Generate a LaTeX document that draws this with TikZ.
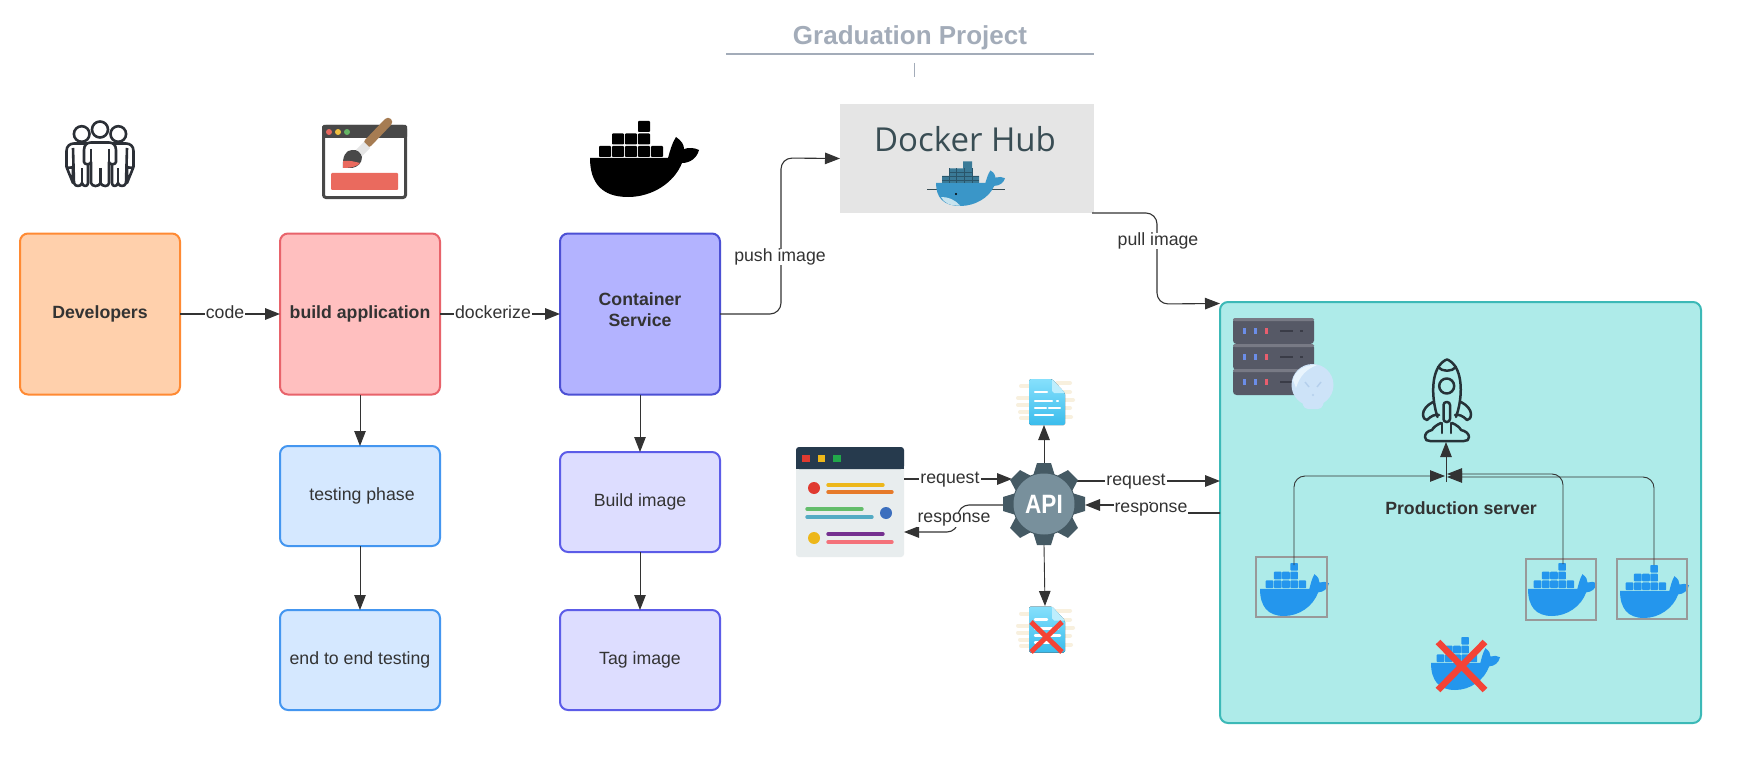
\documentclass[tikz,border=0pt]{standalone}
\usepackage{fontspec}
\setmainfont{Liberation Sans}
\newfontfamily\hubfont{Open Sans}
\usetikzlibrary{arrows.meta,calc}
\definecolor{ink}{HTML}{333333}
\definecolor{dockblue}{HTML}{2496ED}
\definecolor{crossred}{HTML}{F44336}
\definecolor{titlegrey}{HTML}{A3ACB9}
\definecolor{cream}{HTML}{F8F0DE}
\definecolor{docA}{HTML}{86E0FC}
\definecolor{docB}{HTML}{3ABCEC}
\definecolor{docF}{HTML}{BDEEFD}
\definecolor{pplc}{HTML}{2B2F36}
\definecolor{rockc}{HTML}{263238}
\definecolor{HTMLa}{HTML}{FF8A33}
\definecolor{HTMLb}{HTML}{FFD0AC}
\definecolor{HTMLc}{HTML}{E8636B}
\definecolor{HTMLd}{HTML}{FFBFBF}
\definecolor{HTMLe}{HTML}{4C50D4}
\definecolor{HTMLf}{HTML}{B3B3FF}
\definecolor{HTMLg}{HTML}{4496F0}
\definecolor{HTMLh}{HTML}{D5E8FF}
\definecolor{HTMLi}{HTML}{5C5CE8}
\definecolor{HTMLj}{HTML}{DDDDFF}
\definecolor{HTMLk}{HTML}{3CB9B7}
\definecolor{HTMLl}{HTML}{AEEBE9}
\definecolor{HTMLm}{HTML}{E8685F}
\definecolor{HTMLn}{HTML}{F0C040}
\definecolor{HTMLo}{HTML}{65B565}
\definecolor{HTMLp}{HTML}{EA6A5E}
\definecolor{HTMLq}{HTML}{A67C52}
\definecolor{HTMLr}{HTML}{E5E5E5}
\definecolor{HTMLs}{HTML}{E8EDEE}
\definecolor{HTMLt}{HTML}{263A4D}
\definecolor{HTMLu}{HTML}{E03A30}
\definecolor{HTMLv}{HTML}{EDB71A}
\definecolor{HTMLw}{HTML}{21A84A}
\definecolor{HTMLx}{HTML}{3C6FBE}
\definecolor{HTMLy}{HTML}{E67A2A}
\definecolor{HTMLz}{HTML}{63BD6B}
\definecolor{HTMLA}{HTML}{53ABC4}
\definecolor{HTMLB}{HTML}{74308F}
\definecolor{HTMLC}{HTML}{F4727A}
\definecolor{hubg}{HTML}{E5E5E5}
\definecolor{hubt}{HTML}{394D54}
\definecolor{hubw}{HTML}{3A96C8}
\definecolor{hubb}{HTML}{3A7A97}
\definecolor{hubl}{HTML}{C8E3EE}
\definecolor{paintd}{HTML}{484848}
\definecolor{gearb}{HTML}{455A64}
\definecolor{geara}{HTML}{78909C}
\definecolor{srv}{HTML}{565966}
\definecolor{srvd}{HTML}{3A3C47}
\definecolor{led}{HTML}{6B8DE8}
\definecolor{ledr}{HTML}{E85E6E}
\definecolor{skull}{HTML}{CDE3F8}
\definecolor{skullb}{HTML}{E9F4FD}
\definecolor{skullc}{HTML}{B4CFEC}
\newcommand{\whalehull}[5]{%
\begin{scope}[shift={(#1,#2)},xscale=#3/109,yscale=#4/76]
\fill[#5] (0,37) -- (78,37) .. controls (80,30) and (82,22) .. (86,16) .. controls (92,20) and (94,24) .. (94,28) .. controls (99,26) and (105,27) .. (109,29) .. controls (107,37) and (100,42) .. (92,42) .. controls (84,62) and (62,76) .. (38,76) .. controls (12,76) and (0,62) .. (0,37) -- cycle;
\end{scope}}
\newcommand{\whale}[6]{%
\whalehull{#1}{#2}{#3}{#4}{#5}
\begin{scope}[shift={(#1,#2)},xscale=#3/109,yscale=#4/76]
\foreach \k/\r in {0/25,1/25,2/25,3/25,4/25,1/12.5,2/12.5,3/12.5,3/0}
  \fill[#6,rounded corners=0.8pt] (9+13*\k,\r) rectangle ++(12,11);
\end{scope}}
\newcommand{\docicon}[2]{%
\begin{scope}[shift={(#1,#2)}]
\foreach \xa/\xb/\ya in {-8/0/7,-11/0/19,-11/0/26,-9/0/33,-8/0/39,28/41/4,34/41/13,34/44/21,34/41/29,34/42/38}
  \draw[line width=4pt,line cap=round,color=cream] (\xa,\ya) -- (\xb,\ya);
\fill[top color=docA,bottom color=docB,rounded corners=1.5pt] (0,0) -- (23,0) -- (36,14) -- (36,46) -- (0,46) -- cycle;
\fill[docF] (23,0) -- (36,14) -- (25,14) -- (23,12) -- cycle;
\foreach \xa/\xb/\ya in {6/18/13,6/23/22,28/29/22,6/17/29,20/31/29,6/24/36}
  \draw[white,line width=2.4pt,line cap=round] (\xa,\ya) -- (\xb,\ya);
\end{scope}}
\tikzset{
 flow/.style={draw=ink,line width=1.1pt,-{Triangle[length=15pt,width=11.5pt,fill=ink]},rounded corners=11pt},
 heavyflow/.style={flow,line width=1.7pt},
 thinflow/.style={flow,line width=0.9pt},
 lbl/.style={fill=white,inner xsep=1pt,inner ysep=0pt,text=ink,font=\fontsize{17.7}{21}\selectfont},
 basebox/.style={rounded corners=8pt,line width=2pt,inner sep=0pt,outer sep=0pt,align=center,text=ink,font=\fontsize{17.7}{21}\selectfont},
 mainbox/.style={basebox,minimum width=160pt,minimum height=161pt,font=\bfseries\fontsize{17.7}{21}\selectfont},
 subbox/.style={basebox,minimum width=160pt,minimum height=100pt},
 ghost/.style={inner sep=0pt,outer sep=0pt},
 framebox/.style={draw=black!40,line width=1.7pt,inner sep=0pt,outer sep=0pt},
 cross/.style={crossred,line width=6.5pt},
 person/.style={draw=pplc,line width=2.6pt,fill=white,line join=round},
 rock/.style={draw=rockc,line width=2.5pt,line cap=round,line join=round}
}
\begin{document}
\begin{tikzpicture}[x=1pt,y=-1pt]
\useasboundingbox (0,0) rectangle (1749,757);
\fill[white] (0,0) rectangle (1749,757);
% title
\node[ghost,text=titlegrey,font=\bfseries\fontsize{26}{30}\selectfont] (title) at (910,38) {Graduation Project};
\coordinate (ruleL) at (726,53.7); \coordinate (ruleR) at (1094,53.7);
\draw[titlegrey,line width=1.8pt] (ruleL) -- (ruleR);
\coordinate (tickT) at (914.5,63); \coordinate (tickB) at (914.5,77);
\draw[titlegrey,line width=1pt] (tickT) -- (tickB);
% main boxes
\node[mainbox,draw=HTMLa,fill=HTMLb] (dev) at (100,314) {Developers};
\node[mainbox,draw=HTMLc,fill=HTMLd] (app) at (360,314) {build application};
\node[mainbox,draw=HTMLe,fill=HTMLf] (cont) at (640,314) {};
\node[ghost,align=center,text=ink,font=\bfseries\fontsize{17.7}{21}\selectfont] (conttxt) at (640,310) {Container\\Service};
\node[subbox,draw=HTMLg,fill=HTMLh] (test) at (360,496) {\hspace*{4pt}\raisebox{2pt}{testing phase}};
\node[subbox,draw=HTMLg,fill=HTMLh] (e2e) at (360,660) {end to end testing};
\node[subbox,draw=HTMLi,fill=HTMLj] (build) at (640,502) {Build image};
\node[subbox,draw=HTMLi,fill=HTMLj] (tag) at (640,660) {Tag image};
% production
\node[basebox,draw=HTMLk,fill=HTMLl,minimum width=481pt,minimum height=421pt] (prod) at (1460.5,512.5) {};
\node[ghost,text=ink,font=\bfseries\fontsize{17.7}{21}\selectfont] (prodtxt) at (1461,508) {Production server};
% docker hub
\node[ghost,fill=hubg,minimum width=254pt,minimum height=109pt] (hub) at (967,158.5) {};
\node[ghost,text=hubt,font=\hubfont\fontsize{33}{36}\selectfont] (hubtxt) at (965,139) {Docker Hub};
\draw[hubt,line width=0.6pt] (927,189) -- (1005,189);
\whalehull{936}{161}{69}{45}{hubw}
\fill[hubb] (942,176) rectangle (979,183) (949,168.5) rectangle (972,176) (963,161.5) rectangle (972,168.5);
\draw[hubb!70!black,line width=0.4pt] (949,168.5) -- (949,183) (956.5,168.5) -- (956.5,183) (964,168.5) -- (964,183) (972,168.5) -- (972,183) (942,176) -- (979,176) (949,172) -- (972,172) (942,180) -- (979,180);
\fill[hubl] (941,197) .. controls (948,197) and (954,199) .. (960,205.5) .. controls (950,206) and (944,203) .. (941,197) -- cycle;
\fill[black] (956,194) circle[radius=1.2pt];
% black whale
\whale{590}{121}{109}{76}{black}{black}
% people
\begin{scope}
 \foreach \m in {1,-1}{
 \begin{scope}[xshift=100pt,xscale=\m]
  \draw[person] (-33.5,167) -- (-33.5,151) .. controls (-33.5,146) and (-30,143.5) .. (-26,143.5) -- (-12,143.5) -- (-12,183) .. controls (-12,187) and (-17,187) .. (-18,183) .. controls (-19,187) and (-25,187) .. (-26,183) -- (-27,148) (-27,183) -- (-27,167) .. controls (-30,168) and (-33.5,168) .. (-33.5,167) -- cycle;
  \draw[person,fill=none] (-18,183) -- (-18,168);
  \draw[person] (-18.3,134) circle[radius=7.8pt];
 \end{scope}}
 \draw[person] (84,162) -- (84,150) .. controls (84,145) and (87,142.5) .. (91,142.5) -- (109,142.5) .. controls (113,142.5) and (116,145) .. (116,150) -- (116,162) .. controls (116,165) and (109,165) .. (109,162) -- (109,183) .. controls (109,187) and (102,187) .. (100.5,183) .. controls (99,187) and (92,187) .. (91,183) -- (91,162) .. controls (91,165) and (84,165) .. (84,162) -- cycle;
 \draw[person,fill=none] (91,149) -- (91,162) (109,149) -- (109,162) (100.5,168) -- (100.5,183);
 \draw[person] (100,129.5) circle[radius=8pt];
\end{scope}
% paint window
\node[ghost,draw=paintd,line width=3pt,fill=white,rounded corners=2.5pt,minimum width=82pt,minimum height=71pt] (paint) at (364.5,162) {};
\fill[paintd,rounded corners=1.5pt] (322,125) rectangle (407,138);
\fill[HTMLm] (329,132) circle[radius=3pt];
\fill[HTMLn] (338,132) circle[radius=3pt];
\fill[HTMLo] (347,132) circle[radius=3pt];
\fill[HTMLp,rounded corners=1pt] (331,173) rectangle (398,190);
\draw[HTMLq,line width=8.5pt,line cap=round] (368,143) -- (388,122);
\draw[HTMLr,line width=8.5pt] (367,145) -- (359,153);
\fill[paintd] (343,168) .. controls (342,156) and (346,150) .. (352,150) .. controls (357,149) and (361,153) .. (362,157) .. controls (362,163) and (358,167) .. (352,168) -- cycle;
\fill[HTMLp] (343,168) -- (343.2,161) .. controls (350,160) and (355,162) .. (360,163) .. controls (358,166) and (352,168) .. (343,168) -- cycle;
% client panel
\node[ghost,fill=HTMLs,rounded corners=3pt,minimum width=108pt,minimum height=110pt] (client) at (850,502) {};
\fill[HTMLt,rounded corners=3pt] (796,447) rectangle (904,469);
\fill[HTMLt] (796,458) rectangle (904,469);
\fill[HTMLu] (802,455) rectangle (810,462);
\fill[HTMLv] (818,455) rectangle (825,462);
\fill[HTMLw] (833,455) rectangle (841,462);
\fill[HTMLu] (814,488) circle[radius=6pt];
\fill[HTMLx] (886,513) circle[radius=6pt];
\fill[HTMLv] (814,538) circle[radius=6pt];
\begin{scope}[line width=3.4pt,line cap=round]
\draw[HTMLv] (828,485) -- (883,485);
\draw[HTMLy] (828,492) -- (892,492);
\draw[HTMLz] (807,509) -- (862,509);
\draw[HTMLA] (807,517) -- (872,517);
\draw[HTMLB] (828,534) -- (883,534);
\draw[HTMLC] (828,542) -- (892,542);
\end{scope}
% docs
\node[ghost,minimum width=36pt,minimum height=46pt] (docok) at (1047,402) {};
\node[ghost,minimum width=36pt,minimum height=47pt] (docbad) at (1047,629.5) {};
\docicon{1029}{379}
\docicon{1029}{606.5}
\draw[cross,line width=5pt] (1031,622) -- (1062,652) (1062,622) -- (1031,652);
% connectors
\draw[heavyflow] (dev.east) -- (app.west);
\draw[heavyflow] (app.east) -- (cont.west);
\draw[flow] (cont.east) -- ++(61,0) -- (781,158) -- (hub.west);
\draw[flow] ([xshift=-2pt]hub.south east) -- (1157,213) -- (1157,304) -- ([yshift=-1.5pt]prod.north west);
\draw[thinflow] (app.south) -- (test.north);
\draw[thinflow] (test.south) -- (e2e.north);
\draw[thinflow] (cont.south) -- (build.north);
\draw[thinflow] (build.south) -- (tag.north);
\node[ghost,minimum size=82pt,circle] (api) at (1044,504) {};
\draw[heavyflow] ([yshift=23pt]client.east) -- ([xshift=9pt,yshift=25pt]api.west);
\draw[flow] ([yshift=-1pt]api.west) -- (958,505) -- (958,532) -- ([yshift=-30pt]client.east);
\draw[heavyflow] ([xshift=-10pt,yshift=23pt]api.east) -- ([yshift=31.5pt]prod.west);
\draw[heavyflow] ([yshift=-0.5pt]prod.west) -- (1150,513) -- (1150,505) -- ([yshift=-1pt]api.east);
\draw[thinflow] (api.north) -- ([xshift=-3pt]docok.south);
\draw[thinflow] (api.south) -- ([xshift=-2pt]docbad.north);
% api gear
\fill[gearb] (1044,504) circle[radius=31.5pt];
\foreach \a in {0,45,...,315}
  \fill[gearb,rotate around={\a:(1044,504)}] (1033,476) -- (1037,463) -- (1051,463) -- (1055,476) -- cycle;
\node[ghost,circle,fill=geara,minimum size=61pt,text=white,font=\bfseries\fontsize{26.5}{28}\selectfont] (apitxt) at (1044,504) {\scalebox{0.85}[1]{API}};
% labels
\node[lbl] (lcode) at (225,312) {code};
\node[lbl] (ldock) at (493,312) {dockerize};
\node[lbl] (lpush) at (780,257) {push image};
\node[lbl] (lpull) at (1158,241) {pull image};
\node[lbl] (lreqa) at (950,480) {request};
\node[lbl] (lresa) at (954,520) {response};
\node[lbl] (lreqb) at (1136,482) {request};
\node[lbl] (lresb) at (1151,510) {response};
% server rack
\foreach \y in {318,344,369}{
 \fill[srv,rounded corners=3.5pt] (1233,\y) rectangle (1314,\y+26);
 \fill[srv!80!white,rounded corners=2pt] (1233,\y) rectangle (1314,\y+3);
 \foreach \x in {1244,1255}
   \fill[led] (\x-1.5,\y+10) rectangle (\x+1.5,\y+16);
 \fill[ledr] (1264.5,\y+10) rectangle (1267.5,\y+16);
 \draw[srvd,line width=2pt] (1280,\y+13) -- (1293,\y+13);
 \draw[srvd,line width=2pt] (1300,\y+13) -- (1303,\y+13);
}
\node[ghost,circle,fill=skull,minimum size=42pt] (bulb) at (1312.5,385) {};
\fill[skull,rounded corners=4pt] (1301,397) -- (1325,397) -- (1322,409) -- (1304,409) -- cycle;
\fill[skullb] (1293,380) .. controls (1295,370) and (1306,364) .. (1317,365) .. controls (1307,369) and (1300,375) .. (1296,388) -- cycle;
\draw[skullc,line width=1.4pt] (1305,382) -- (1309,387) (1321,382) -- (1317,387);
\fill[skullc] (1313,395) circle[radius=1.2pt];
% rocket
\node[ghost,minimum width=49pt,minimum height=84pt] (rocket) at (1447.5,401) {};
\begin{scope}
 \draw[rock] (1437.5,417) .. controls (1432,400) and (1431,378) .. (1439,366) .. controls (1442,362) and (1445,360) .. (1447,359.5) .. controls (1449,360) and (1452,362) .. (1455,366) .. controls (1463,378) and (1462,400) .. (1456,417);
 \draw[rock] (1438,367) .. controls (1442,372) and (1452,372) .. (1456,367);
 \draw[rock] (1446.7,386) circle[radius=7.5pt];
 \draw[rock,rounded corners=3pt] (1443.5,402) rectangle (1450,422);
 \draw[rock] (1433,402) .. controls (1427,405) and (1423,410) .. (1423,414) .. controls (1423,418) and (1425,420) .. (1427,420) .. controls (1431,416) and (1435,414) .. (1439,415);
 \draw[rock] (1461,402) .. controls (1467,405) and (1471,410) .. (1471,414) .. controls (1471,418) and (1469,420) .. (1467,420) .. controls (1463,416) and (1459,414) .. (1455,415);
 \draw[rock] (1441,423) .. controls (1436,425) and (1433,428) .. (1432,430) .. controls (1427,431) and (1425,434) .. (1425,437) .. controls (1425,440) and (1427,441) .. (1430,441) -- (1464,441) .. controls (1467,441) and (1469,440) .. (1469,437) .. controls (1469,434) and (1466,431) .. (1461,430) .. controls (1460,428) and (1457,425) .. (1452,423);
 \draw[rock] (1442,423) -- (1442,433) (1451,423) -- (1451,433);
\end{scope}
% containers
\whale{1260}{563}{69}{53}{dockblue}{dockblue}
\whale{1528}{563}{69}{53}{dockblue}{dockblue}
\whale{1620}{565}{69}{53}{dockblue}{dockblue}
\whale{1431}{637}{69}{53}{dockblue}{dockblue}
\node[framebox,minimum width=71pt,minimum height=60pt] (wa) at (1291.5,587) {};
\node[framebox,minimum width=70pt,minimum height=61pt] (wb) at (1561,589.5) {};
\node[framebox,minimum width=70pt,minimum height=60pt] (wc) at (1652,589) {};
\draw[cross] (1438,642) -- (1485,690) (1485,642) -- (1438,690);
% production flows
\coordinate (junc) at (1446,482);
\draw[thinflow] (junc) -- ([xshift=-1.5pt,yshift=1pt]rocket.south);
\draw[thinflow] ([xshift=2.5pt,yshift=-8pt]wa.north) -- (1294,476) -- (1445,476);
\draw[thinflow] ([xshift=2pt,yshift=-5pt]wb.north) -- (1563,474) -- (1447,474);
\draw[thinflow] ([xshift=2pt,yshift=-6pt]wc.north) -- (1654,477) -- (1447,477);
\end{tikzpicture}
\end{document}
